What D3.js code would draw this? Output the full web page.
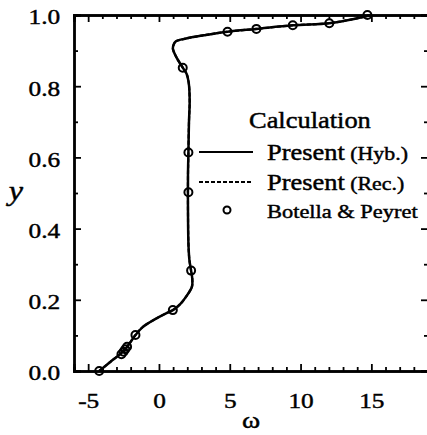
<!doctype html>
<html>
  <head>
    <meta charset="UTF-8">
    <title>vorticity profile</title>
    <script src="https://d3js.org/d3.v7.min.js"></script>
    <style>
      body { margin: 0; background: #fff; }
      svg text { font-family: "Liberation Serif", Tinos, "Times New Roman", Times, "DejaVu Serif", serif;
                 fill: #000; stroke: #000; stroke-width: 0.45px; }
      .axis path, .axis line { stroke: #000; }
    </style>
  </head>
  <body>
    <svg id="chart" width="427" height="435"></svg>
    <script>
      // Present (Hyb.) profile: omega, y
      const hybOmega = [-4.22, -3.3, -2.45, -1.66, -1.13, -0.3, 0.5, 0.98, 1.5, 1.92, 2.33, 2.35, 2.27, 2.15, 2.08, 2.05, 2.05, 2.08, 2.12, 2.17, 2.1, 1.95, 1.68, 1.21, 0.98, 1.05, 1.2, 1.92, 3.32, 4.84, 6.88, 9.45, 12.03, 13.4, 14.7, 14.9];
      const hybY     = [0.0, 0.03, 0.058, 0.101, 0.124, 0.145, 0.162, 0.171, 0.188, 0.209, 0.237, 0.26, 0.282, 0.312, 0.36, 0.45, 0.55, 0.614, 0.7, 0.76, 0.81, 0.835, 0.852, 0.883, 0.906, 0.918, 0.926, 0.934, 0.944, 0.953, 0.961, 0.971, 0.977, 0.986, 0.997, 1.0];
      // Present (Rec.) profile – lies on top of the hybrid one
      const recOmega = [-4.22, -3.3, -2.45, -1.66, -1.13, -0.3, 0.5, 0.98, 1.5, 1.92, 2.33, 2.35, 2.27, 2.15, 2.08, 2.05, 2.05, 2.08, 2.12, 2.17, 2.1, 1.95, 1.68, 1.21, 0.98, 1.05, 1.2, 1.92, 3.32, 4.84, 6.88, 9.45, 12.03, 13.4, 14.7, 14.9];
      const recY     = [0.0, 0.03, 0.058, 0.101, 0.124, 0.145, 0.162, 0.171, 0.188, 0.209, 0.237, 0.26, 0.282, 0.312, 0.36, 0.45, 0.55, 0.614, 0.7, 0.76, 0.81, 0.835, 0.852, 0.883, 0.906, 0.918, 0.926, 0.934, 0.944, 0.953, 0.961, 0.971, 0.977, 0.986, 0.997, 1.0];
      // Botella & Peyret points
      const bpOmega = [-4.22, -2.65, -2.5, -2.38, -2.25, -1.66, 0.98, 2.27, 2.08, 2.08, 1.68, 4.84, 6.88, 9.45, 12.03, 14.72];
      const bpY     = [0.0, 0.047, 0.054, 0.061, 0.068, 0.101, 0.171, 0.282, 0.502, 0.614, 0.852, 0.953, 0.961, 0.971, 0.977, 1.0];

      const xMajor = [-5, 0, 5, 10, 15];
      const yMajor = [0.0, 0.2, 0.4, 0.6, 0.8, 1.0];

      const svg = d3.select("#chart");
      const SX = 1.15; // the scanned lettering is a bit wide

      const x = d3.scaleLinear().domain([-6, 19]).range([74, 428]);
      const y = d3.scaleLinear().domain([0, 1]).range([371, 15]);

      const xMinor = d3.range(-6, 20, 1).filter(v => !xMajor.includes(v));
      const yMinor = d3.range(0, 11, 1).map(v => v / 10).filter(v => !yMajor.some(m => Math.abs(m - v) < 1e-9));

      function drawAxis(axisFn, scale, pos, major, minor, labels, fmt, pad) {
        const g = svg.append("g").attr("class", "axis").attr("transform", pos);
        g.call(axisFn(scale).tickValues(minor).tickSize(-4).tickFormat(""));
        const g2 = svg.append("g").attr("class", "axis").attr("transform", pos);
        g2.call(axisFn(scale).tickValues(major).tickSize(-7).tickPadding(pad)
          .tickFormat(labels ? fmt : ""));
        [g, g2].forEach(s => {
          s.attr("font-family", null).attr("font-size", null);
          s.selectAll("path").attr("stroke-width", 2.4);
          s.selectAll("line").attr("stroke-width", 1.8);
        });
        return g2;
      }

      const gx = drawAxis(d3.axisBottom, x, "translate(0,371)", xMajor, xMinor, true, d => String(d), 21);
      drawAxis(d3.axisTop, x, "translate(0,15)", xMajor, xMinor, false, null, 0);
      const gy = drawAxis(d3.axisLeft, y, "translate(74,0)", yMajor, yMinor, true, d3.format(".1f"), 12);
      drawAxis(d3.axisRight, y, "translate(428,0)", yMajor, yMinor, false, null, 0);

      gx.selectAll("text").attr("font-size", 22)
        .attr("transform", `scale(${SX},1)`);
      gy.selectAll("text").attr("font-size", 22)
        .attr("dy", "0.4em").attr("transform", `scale(${SX},1)`);

      // axis titles
      svg.append("text").attr("transform", `translate(16,200) scale(${SX},1)`)
        .attr("text-anchor", "middle").attr("font-style", "italic").attr("font-size", 28).text("y");
      svg.append("text").attr("transform", `translate(251,428) scale(${SX},1)`)
        .attr("text-anchor", "middle").attr("font-size", 24).text("ω");

      // curves
      const line = d3.line().curve(d3.curveCatmullRom.alpha(0.5))
        .x(d => x(d[0])).y(d => y(d[1]));
      const rec = recOmega.map((w, i) => [w, recY[i]]);
      const hyb = hybOmega.map((w, i) => [w, hybY[i]]);
      svg.append("path").datum(rec).attr("d", line)
        .attr("fill", "none").attr("stroke", "#000").attr("stroke-width", 2.2).attr("stroke-dasharray", "4,2");
      svg.append("path").datum(hyb).attr("d", line)
        .attr("fill", "none").attr("stroke", "#000").attr("stroke-width", 2.5);

      svg.append("g").selectAll("circle")
        .data(bpOmega.map((w, i) => [w, bpY[i]]))
        .join("circle")
        .attr("cx", d => x(d[0])).attr("cy", d => y(d[1])).attr("r", 4)
        .attr("fill", "none").attr("stroke", "#000").attr("stroke-width", 2);

      // legend
      const leg = svg.append("g");
      leg.append("text").attr("transform", `translate(249,128) scale(${SX},1)`)
        .attr("font-size", 23).text("Calculation");
      leg.append("line").attr("x1", 199).attr("x2", 253).attr("y1", 152).attr("y2", 152)
        .attr("stroke", "#000").attr("stroke-width", 2.2);
      leg.append("line").attr("x1", 199).attr("x2", 253).attr("y1", 182).attr("y2", 182)
        .attr("stroke", "#000").attr("stroke-width", 2.2).attr("stroke-dasharray", "4,2");
      leg.append("circle").attr("cx", 227).attr("cy", 210).attr("r", 3.5)
        .attr("fill", "none").attr("stroke", "#000").attr("stroke-width", 2);

      const entries = [["Present", " (Hyb.)", 160], ["Present", " (Rec.)", 190]];
      entries.forEach(([a, b, by]) => {
        const t = leg.append("text").attr("transform", `translate(267,${by}) scale(${SX},1)`);
        t.append("tspan").attr("font-size", 23).text(a);
        t.append("tspan").attr("font-size", 19).text(b);
      });
      leg.append("text").attr("transform", `translate(267,218) scale(${SX},1)`)
        .attr("font-size", 19.5).text("Botella & Peyret");
    </script>
  </body>
</html>
